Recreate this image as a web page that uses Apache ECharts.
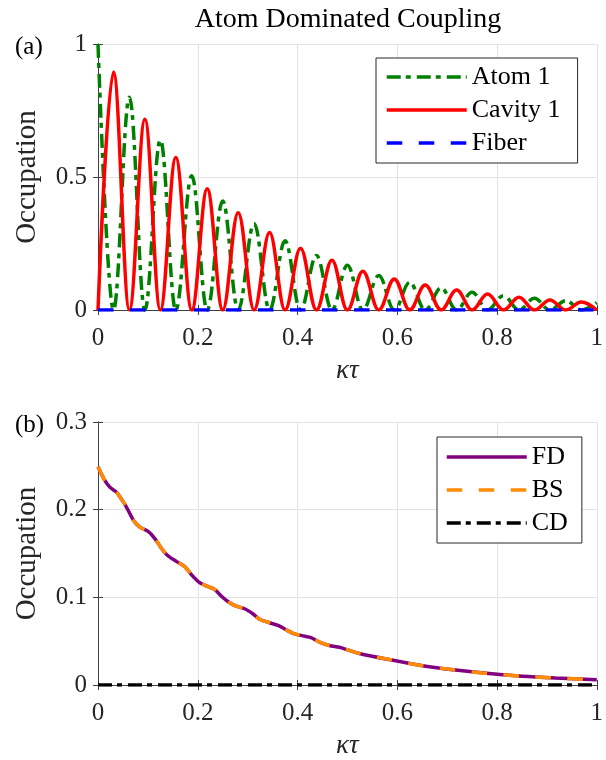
<!DOCTYPE html>
<html>
<head>
<meta charset="utf-8">
<script src="https://cdn.jsdelivr.net/npm/echarts@6/dist/echarts.min.js"></script>
<style>
html, body { margin: 0; padding: 0; background: #fff; }
#chart { width: 606px; height: 760px; }
</style>
</head>
<body>
<div id="chart"></div>
<script>
// panel (a): peaks and zeros
const tTop = [0, 0.031, 0.063, 0.094, 0.125, 0.156, 0.188, 0.219, 0.25, 0.281, 0.313,
    0.344, 0.375, 0.406, 0.438, 0.469, 0.5, 0.531, 0.563, 0.594, 0.625, 0.656, 0.688,
    0.719, 0.75, 0.781, 0.813, 0.844, 0.875, 0.906, 0.938, 0.969, 1.0];
const atom1 = [1.0, 0, 0.80, 0, 0.64, 0, 0.505, 0, 0.41, 0, 0.325, 0, 0.26, 0, 0.205, 0,
    0.168, 0, 0.13, 0, 0.104, 0, 0.083, 0, 0.067, 0, 0.054, 0, 0.044, 0, 0.035, 0, 0.028];
const cavity1 = [0, 0.895, 0, 0.717, 0, 0.573, 0, 0.456, 0, 0.366, 0, 0.291, 0, 0.232, 0, 0.187,
    0, 0.146, 0, 0.117, 0, 0.094, 0, 0.075, 0, 0.060, 0, 0.048, 0, 0.038, 0, 0.030, 0];
const tFiber = [0, 1];
const fiber = [0, 0];

// panel (b)
const tBot = [0, 0.014, 0.024, 0.037, 0.047, 0.057, 0.071, 0.084, 0.101, 0.114, 0.127, 0.139,
    0.157, 0.174, 0.187, 0.201, 0.217, 0.234, 0.247, 0.261, 0.277, 0.294, 0.311, 0.324, 0.344,
    0.361, 0.377, 0.391, 0.411, 0.427, 0.444, 0.464, 0.484, 0.501, 0.524, 0.584, 0.651, 0.717,
    0.784, 0.851, 0.917, 1.0];
const fd = [0.249, 0.233, 0.2255, 0.220, 0.212, 0.203, 0.188, 0.180, 0.175, 0.167, 0.156, 0.148,
    0.141, 0.135, 0.126, 0.118, 0.113, 0.109, 0.1015, 0.095, 0.090, 0.087, 0.081, 0.075, 0.071,
    0.068, 0.063, 0.059, 0.056, 0.054, 0.049, 0.045, 0.043, 0.040, 0.036, 0.029, 0.022, 0.017,
    0.013, 0.010, 0.008, 0.006];
const bs = [0.249, 0.233, 0.2255, 0.220, 0.212, 0.203, 0.188, 0.180, 0.175, 0.167, 0.156, 0.148,
    0.141, 0.135, 0.126, 0.118, 0.113, 0.109, 0.1015, 0.095, 0.090, 0.087, 0.081, 0.075, 0.071,
    0.068, 0.063, 0.059, 0.056, 0.054, 0.049, 0.045, 0.043, 0.040, 0.036, 0.029, 0.022, 0.017,
    0.013, 0.010, 0.008, 0.006];
const tCD = [0, 1];
const cd = [0, 0];

const xTicks = [0, 0.2, 0.4, 0.6, 0.8, 1];

const FONT = 'Liberation Serif';
const AXIS_COLOR = '#404040';
const TEXT_COLOR = '#262626';
const LW = 3.5;

function pairs(xs, ys) {
    return xs.map((x, i) => [x, ys[i]]);
}

function xAxisPair(gridIndex) {
    const base = {
        gridIndex: gridIndex,
        type: 'value',
        min: xTicks[0],
        max: xTicks[xTicks.length - 1],
        interval: 0.2,
        axisLine: { show: true, lineStyle: { color: AXIS_COLOR, width: 1 } },
        axisTick: { show: true, inside: true, length: 5, lineStyle: { color: AXIS_COLOR } },
    };
    return [
        Object.assign({}, base, {
            position: 'bottom',
            name: 'κτ',
            nameLocation: 'middle',
            nameGap: 47,
            nameTextStyle: { fontFamily: FONT, fontSize: 27, fontStyle: 'italic', color: TEXT_COLOR },
            axisLabel: { fontFamily: FONT, fontSize: 25, color: TEXT_COLOR, margin: 16 },
            splitLine: { show: true, lineStyle: { color: '#e2e2e2', width: 1 } },
        }),
        Object.assign({}, base, {
            position: 'top',
            axisLabel: { show: false },
            splitLine: { show: false },
        }),
    ];
}

function yAxisPair(gridIndex, max, interval) {
    const base = {
        gridIndex: gridIndex,
        type: 'value',
        min: 0,
        max: max,
        interval: interval,
        axisLine: { show: true, lineStyle: { color: AXIS_COLOR, width: 1 } },
        axisTick: { show: true, inside: true, length: 5, lineStyle: { color: AXIS_COLOR } },
    };
    return [
        Object.assign({}, base, {
            position: 'left',
            name: 'Occupation',
            nameLocation: 'middle',
            nameGap: 56,
            nameTextStyle: { fontFamily: FONT, fontSize: 29, color: TEXT_COLOR },
            axisLabel: { fontFamily: FONT, fontSize: 25, color: TEXT_COLOR, margin: 11 },
            splitLine: { show: true, lineStyle: { color: '#e2e2e2', width: 1 } },
        }),
        Object.assign({}, base, {
            position: 'right',
            axisLabel: { show: false },
            splitLine: { show: false },
        }),
    ];
}

function legendBox(names, left, top, padding) {
    return {
        data: names,
        orient: 'vertical',
        left: left,
        top: top,
        itemWidth: 80,
        itemHeight: 4,
        itemGap: 7,
        padding: padding,
        borderColor: '#262626',
        borderWidth: 1,
        backgroundColor: '#fff',
        selectedMode: false,
        // hide the marker that ECharts puts on a line legend, keep the dashed line
        itemStyle: { opacity: 0 },
        lineStyle: { width: LW },
        textStyle: { fontFamily: FONT, fontSize: 26, color: '#000', lineHeight: 26 },
    };
}

const chart = echarts.init(document.getElementById('chart'), null, { renderer: 'canvas' });

chart.setOption({
    animation: false,
    backgroundColor: '#fff',
    title: [
        {
            text: 'Atom Dominated Coupling',
            left: 343, top: 1, textAlign: 'center',
            textStyle: { fontFamily: FONT, fontSize: 28, fontWeight: 'normal', color: '#000' },
        },
        {
            text: '(a)', left: 10, top: 30,
            textStyle: { fontFamily: FONT, fontSize: 25, fontWeight: 'normal', color: '#000' },
        },
        {
            text: '(b)', left: 10, top: 408,
            textStyle: { fontFamily: FONT, fontSize: 25, fontWeight: 'normal', color: '#000' },
        },
    ],
    grid: [
        { left: 98, top: 44, width: 499, height: 266 },
        { left: 98, top: 422, width: 499, height: 266 },
    ],
    xAxis: xAxisPair(0).concat(xAxisPair(1)),
    yAxis: yAxisPair(0, 1, 0.5).concat(yAxisPair(1, 0.3, 0.1)),
    legend: [
        legendBox(['Atom 1', 'Cavity 1', 'Fiber'], 376, 58, [6, 17, 7, 9]),
        legendBox(['FD', 'BS', 'CD'], 437, 437, [7, 14, 7, 8]),
    ],
    series: [
        {
            name: 'Atom 1', type: 'line', xAxisIndex: 0, yAxisIndex: 0,
            data: pairs(tTop, atom1),
            symbol: 'none', smooth: 0.38, smoothMonotone: 'x',
            lineStyle: { color: '#008000', width: LW, type: [14, 5, 5, 6] },
            itemStyle: { color: '#008000' },
        },
        {
            name: 'Cavity 1', type: 'line', xAxisIndex: 0, yAxisIndex: 0,
            data: pairs(tTop, cavity1),
            symbol: 'none', smooth: 0.38, smoothMonotone: 'x',
            lineStyle: { color: '#ff0000', width: LW },
            itemStyle: { color: '#ff0000' },
        },
        {
            name: 'Fiber', type: 'line', xAxisIndex: 0, yAxisIndex: 0,
            data: pairs(tFiber, fiber),
            symbol: 'none',
            lineStyle: { color: '#0000ff', width: LW, type: [15.5, 16.5] },
            itemStyle: { color: '#0000ff' },
        },
        {
            name: 'FD', type: 'line', xAxisIndex: 2, yAxisIndex: 2,
            data: pairs(tBot, fd),
            symbol: 'none', smooth: 0.3,
            lineStyle: { color: '#800080', width: LW },
            itemStyle: { color: '#800080' },
        },
        {
            name: 'BS', type: 'line', xAxisIndex: 2, yAxisIndex: 2,
            data: pairs(tBot, bs),
            symbol: 'none', smooth: 0.3,
            lineStyle: { color: '#ff8c00', width: LW, type: [15.5, 16.5] },
            itemStyle: { color: '#ff8c00' },
        },
        {
            name: 'CD', type: 'line', xAxisIndex: 2, yAxisIndex: 2,
            data: pairs(tCD, cd),
            symbol: 'none',
            lineStyle: { color: '#000000', width: LW, type: [14, 5, 5, 6] },
            itemStyle: { color: '#000000' },
        },
    ],
});
</script>
</body>
</html>
